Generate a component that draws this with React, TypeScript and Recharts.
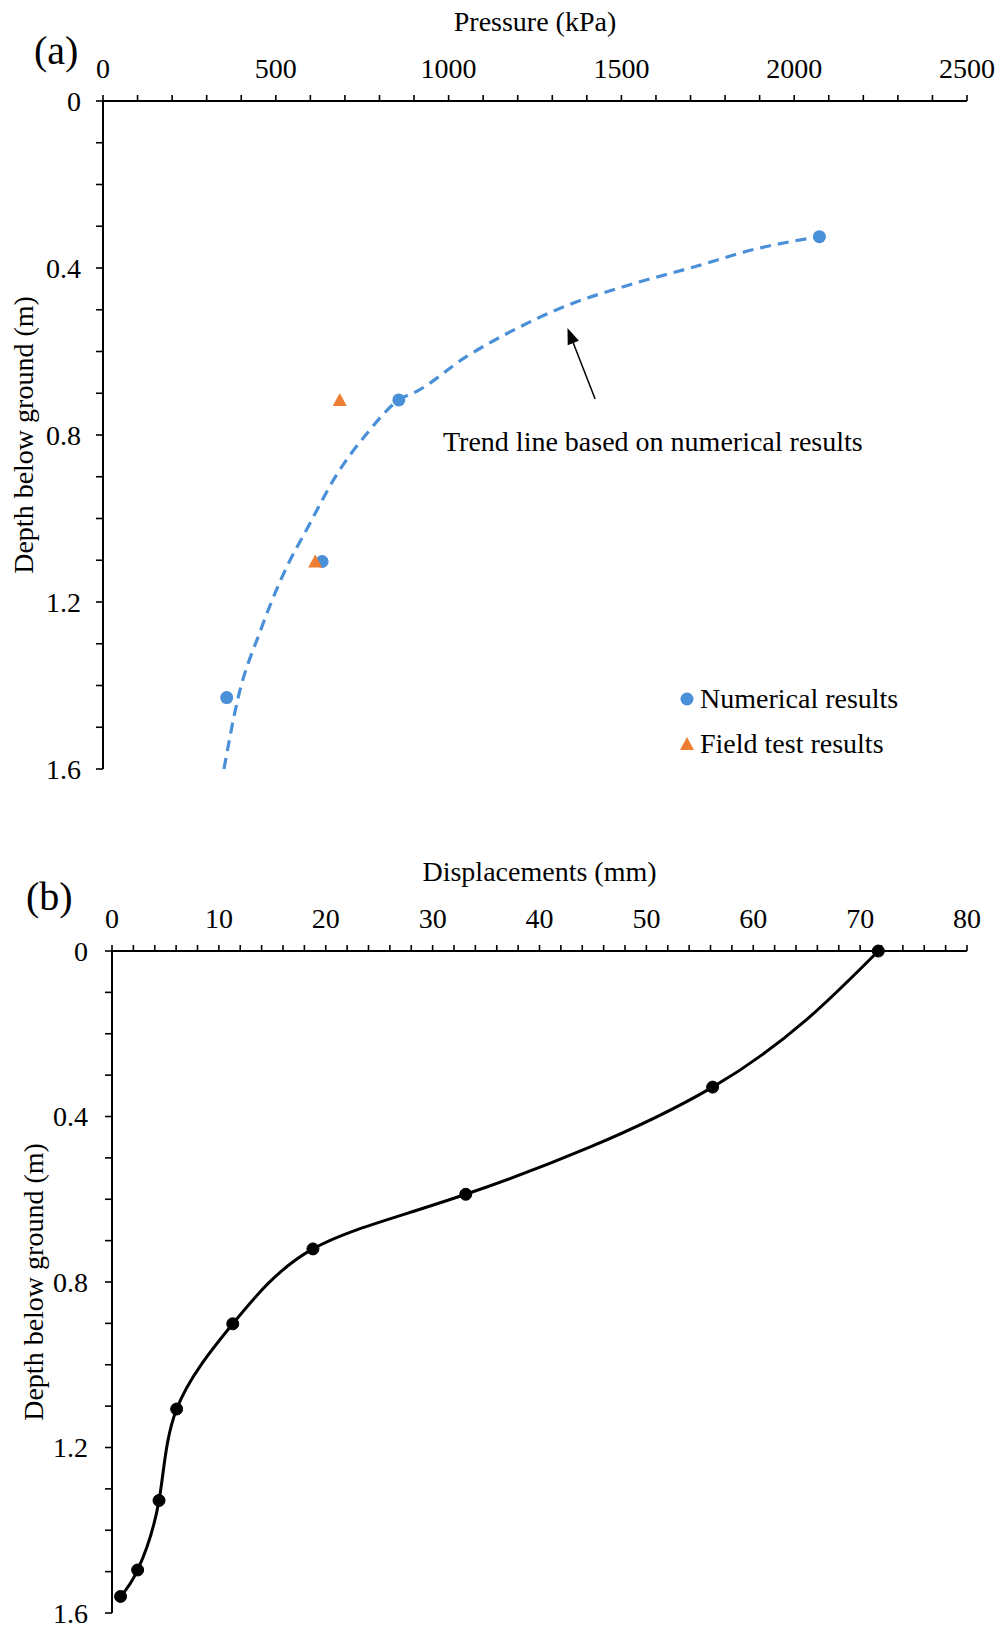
import {
  ComposedChart,
  Legend,
  Line,
  LineChart,
  ReferenceDot,
  ReferenceLine,
  Scatter,
  XAxis,
  YAxis,
} from 'recharts'

const FONT = "'Liberation Serif', 'Times New Roman', serif"
const BLUE = '#4a90d9'
const ORANGE = '#ed7d31'

// (a) pressure against depth
const numericalPressure = [2073, 856, 634, 358]
const numericalDepth = [0.325, 0.716, 1.103, 1.429]
const fieldPressure = [685, 614]
const fieldDepth = [0.716, 1.103]
// trend line
const trendPressure = [350, 391, 454, 521, 596, 674, 765, 856, 909, 1050, 1178, 1345, 1513, 1707, 1901, 2073]
const trendDepth = [1.6, 1.429, 1.272, 1.135, 1.016, 0.898, 0.795, 0.716, 0.695, 0.613, 0.553, 0.489, 0.443, 0.398, 0.352, 0.325]
const pressureTicks = [0, 500, 1000, 1500, 2000, 2500]
const depthTicks = [0, 0.4, 0.8, 1.2, 1.6]

// (b) displacement against depth
const displacement = [71.7, 56.2, 33.1, 18.8, 11.3, 6.05, 4.4, 2.4, 0.8]
const displacementDepth = [0, 0.329, 0.588, 0.72, 0.901, 1.107, 1.328, 1.496, 1.56]
const displacementTicks = [0, 10, 20, 30, 40, 50, 60, 70, 80]

const trendNote = 'Trend line based on numerical results'

const withMinor = (major: number[], parts: number) => {
  const out: number[] = []
  for (let i = 0; i < major.length - 1; i++) {
    const step = (major[i + 1] - major[i]) / parts
    for (let k = 0; k < parts; k++) out.push(Number((major[i] + k * step).toFixed(4)))
  }
  out.push(major[major.length - 1])
  return out
}

const numericalRows = numericalPressure.map((p, i) => ({ p, d: numericalDepth[i] }))
const fieldRows = fieldPressure.map((p, i) => ({ p, d: fieldDepth[i] }))
const trendRows = trendPressure.map((p, i) => ({ p, d: trendDepth[i] }))
const displacementRows = displacement.map((x, i) => ({ x, d: displacementDepth[i] }))

const tickStyle = { fill: '#000', fontSize: 28, fontFamily: FONT }
const axisLine = { stroke: '#000', strokeWidth: 2 }
const tickLine = { stroke: '#000', strokeWidth: 1.6 }

const depthLabel = (v: number) => (Math.round(v * 10) % 4 === 0 ? String(v) : '')

function Circle(props: any) {
  return <circle cx={props.cx} cy={props.cy} r={6.5} fill={BLUE} />
}

function Triangle(props: any) {
  const { cx, cy } = props
  return <polygon points={`${cx},${cy - 7} ${cx + 7},${cy + 6} ${cx - 7},${cy + 6}`} fill={ORANGE} />
}

function Arrow(props: any) {
  const { x1, y1, x2, y2 } = props
  const ang = Math.atan2(y2 - y1, x2 - x1)
  const len = 16
  const half = 6
  const bx = x2 - len * Math.cos(ang)
  const by = y2 - len * Math.sin(ang)
  const px = -Math.sin(ang) * half
  const py = Math.cos(ang) * half
  return (
    <g>
      <line x1={x1} y1={y1} x2={bx} y2={by} stroke="#000" strokeWidth={1.5} />
      <polygon points={`${x2},${y2} ${bx + px},${by + py} ${bx - px},${by - py}`} fill="#000" />
    </g>
  )
}

function PressureLegend() {
  const row = { display: 'flex', alignItems: 'center', height: 45 }
  return (
    <div style={{ fontFamily: FONT, fontSize: 28, color: '#000', whiteSpace: 'nowrap' }}>
      <div style={row}>
        <svg width={16} height={16}>
          <circle cx={8} cy={8} r={6.5} fill={BLUE} />
        </svg>
        <span style={{ marginLeft: 5 }}>Numerical results</span>
      </div>
      <div style={row}>
        <svg width={16} height={16}>
          <polygon points="8,1 15,14 1,14" fill={ORANGE} />
        </svg>
        <span style={{ marginLeft: 5 }}>Field test results</span>
      </div>
    </div>
  )
}

const panelLetter = (top: number, left: number) => ({
  position: 'absolute' as const,
  top,
  left,
  fontFamily: FONT,
  fontSize: 40,
  lineHeight: 1,
  color: '#000',
})

export default function App() {
  return (
    <div style={{ position: 'absolute', top: 0, left: 0, width: 998, height: 1630, background: '#fff' }}>
      <div style={{ position: 'absolute', top: 0, left: 0 }}>
        <ComposedChart width={998} height={800} margin={{ top: 0, right: 31, bottom: 31, left: 0 }}>
          <XAxis
            type="number"
            dataKey="p"
            orientation="top"
            height={101}
            domain={[0, 2500]}
            ticks={withMinor(pressureTicks, 5)}
            interval={0}
            tickFormatter={(v: number) => (v % 500 === 0 ? String(v) : '')}
            tick={tickStyle}
            tickSize={6}
            tickMargin={17}
            axisLine={axisLine}
            tickLine={tickLine}
            label={{ value: 'Pressure (kPa)', position: 'insideTop', offset: 11, fill: '#000', fontSize: 28, fontFamily: FONT }}
          />
          <YAxis
            type="number"
            dataKey="d"
            reversed
            width={103}
            domain={[0, 1.6]}
            ticks={withMinor(depthTicks, 4)}
            interval={0}
            tickFormatter={depthLabel}
            tick={tickStyle}
            tickSize={7}
            tickMargin={15}
            axisLine={axisLine}
            tickLine={tickLine}
            label={{
              value: 'Depth below ground (m)',
              angle: -90,
              position: 'insideLeft',
              offset: 23,
              fill: '#000',
              fontSize: 28,
              fontFamily: FONT,
              style: { textAnchor: 'middle' },
            }}
          />
          <Line
            data={trendRows}
            dataKey="d"
            type="monotone"
            stroke={BLUE}
            strokeWidth={3.2}
            strokeDasharray="11 7"
            dot={false}
            activeDot={false}
            isAnimationActive={false}
          />
          <Scatter data={numericalRows} shape={Circle} isAnimationActive={false} />
          <Scatter data={fieldRows} shape={Triangle} isAnimationActive={false} />
          <ReferenceLine
            segment={[
              { x: 1424, y: 0.714 },
              { x: 1344, y: 0.544 },
            ]}
            shape={Arrow}
          />
          <ReferenceDot
            x={1591}
            y={0.814}
            r={0}
            fill="none"
            stroke="none"
            label={{ value: trendNote, position: 'center', fill: '#000', fontSize: 28, fontFamily: FONT }}
          />
          <Legend
            layout="horizontal"
            verticalAlign="middle"
            align="center"
            content={() => <PressureLegend />}
            wrapperStyle={{ left: 679, top: 676, width: 280 }}
          />
        </ComposedChart>
      </div>
      <div style={panelLetter(31, 34)}>(a)</div>

      <div style={{ position: 'absolute', top: 820, left: 0 }}>
        <LineChart width={998} height={810} data={displacementRows} margin={{ top: 0, right: 31, bottom: 17, left: 0 }}>
          <XAxis
            type="number"
            dataKey="x"
            orientation="top"
            height={131}
            domain={[0, 80]}
            ticks={withMinor(displacementTicks, 5)}
            interval={0}
            tickFormatter={(v: number) => (v % 10 === 0 ? String(v) : '')}
            tick={tickStyle}
            tickSize={6}
            tickMargin={17}
            axisLine={axisLine}
            tickLine={tickLine}
            label={{ value: 'Displacements (mm)', position: 'insideTop', offset: 41, fill: '#000', fontSize: 28, fontFamily: FONT }}
          />
          <YAxis
            type="number"
            reversed
            width={112}
            domain={[0, 1.6]}
            ticks={withMinor(depthTicks, 4)}
            interval={0}
            tickFormatter={depthLabel}
            tick={tickStyle}
            tickSize={7}
            tickMargin={17}
            axisLine={axisLine}
            tickLine={tickLine}
            label={{
              value: 'Depth below ground (m)',
              angle: -90,
              position: 'insideLeft',
              offset: 33,
              fill: '#000',
              fontSize: 28,
              fontFamily: FONT,
              style: { textAnchor: 'middle' },
            }}
          />
          <Line
            dataKey="d"
            type="natural"
            stroke="#000"
            strokeWidth={3}
            dot={{ r: 6, fill: '#000', stroke: '#000', strokeWidth: 1 }}
            activeDot={false}
            isAnimationActive={false}
          />
        </LineChart>
      </div>
      <div style={panelLetter(877, 26)}>(b)</div>
    </div>
  )
}
